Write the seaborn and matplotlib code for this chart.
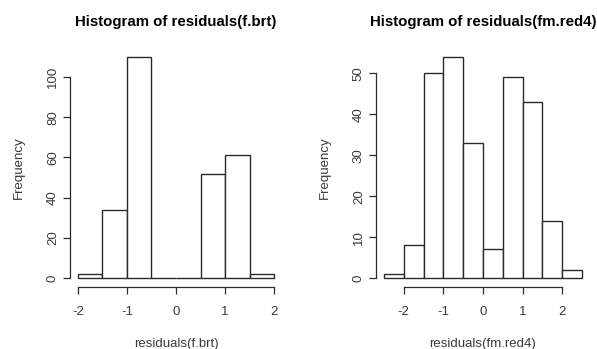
import numpy as np
import seaborn as sns
import matplotlib.pyplot as plt

# histogram bins and counts
edges_brt = [-2.0, -1.5, -1.0, -0.5, 0.0, 0.5, 1.0, 1.5, 2.0]
counts_brt = [2, 34, 110, 0, 0, 52, 61, 2]

edges_red4 = [-2.5, -2.0, -1.5, -1.0, -0.5, 0.0, 0.5, 1.0, 1.5, 2.0, 2.5]
counts_red4 = [1, 8, 50, 54, 33, 7, 49, 43, 14, 2]

xticks_brt = [-2, -1, 0, 1, 2]
yticks_brt = [0, 20, 40, 60, 80, 100]
xticks_red4 = [-2, -1, 0, 1, 2]
yticks_red4 = [0, 10, 20, 30, 40, 50]

sns.set_style("white")
plt.rcParams['font.family'] = ['Liberation Sans', 'DejaVu Sans']
ink = '#2b2b2b'
txt = '#3a3a3a'

fig = plt.figure(figsize=(5.97, 3.49), dpi=100)
W, H = 597, 349
panels = [
    (edges_brt, counts_brt, xticks_brt, yticks_brt, 'residuals(f.brt)', (70, 282)),
    (edges_red4, counts_red4, xticks_red4, yticks_red4, 'residuals(fm.red4)', (376, 590)),
]

for edges, counts, xt, yt, name, (x0, x1) in panels:
    top, bottom = 48, 287
    ax = fig.add_axes([x0 / W, (H - bottom) / H, (x1 - x0) / W, (bottom - top) / H])
    centers = [(a + b) / 2 for a, b in zip(edges[:-1], edges[1:])]
    sns.histplot(x=centers, weights=counts, bins=edges, ax=ax, stat='count',
                 color='white', edgecolor=ink, linewidth=1.0, alpha=1)
    xr = edges[-1] - edges[0]
    ax.set_xlim(edges[0] - 0.04 * xr, edges[-1] + 0.04 * xr)
    ym = max(counts)
    ax.set_ylim(-0.04 * ym, ym * 1.04)
    ax.set_xticks(xt)
    ax.set_yticks(yt)
    ax.set_xticklabels([str(v) for v in xt])
    ax.set_yticklabels([str(v) for v in yt], rotation=90, va='center')
    for s in ['top', 'right']:
        ax.spines[s].set_visible(False)
    ax.spines['left'].set_bounds(yt[0], yt[-1])
    ax.spines['bottom'].set_bounds(xt[0], xt[-1])
    for s in ['left', 'bottom']:
        ax.spines[s].set_color(ink)
        ax.spines[s].set_linewidth(0.9)
    ax.tick_params(axis='both', which='major', length=5, width=0.9, color=ink,
                   labelsize=9.5, labelcolor=txt, direction='out', bottom=True, left=True)
    ax.tick_params(axis='x', pad=9)
    ax.tick_params(axis='y', pad=3)
    ax.set_xlabel(name, fontsize=9.5, color=txt, labelpad=14)
    ax.set_ylabel('Frequency', fontsize=9.5, color=txt, labelpad=16)
    ax.set_title('Histogram of ' + name, fontsize=10.8, fontweight='bold', color='black', pad=16)

fig.savefig('out.png', dpi=100)
